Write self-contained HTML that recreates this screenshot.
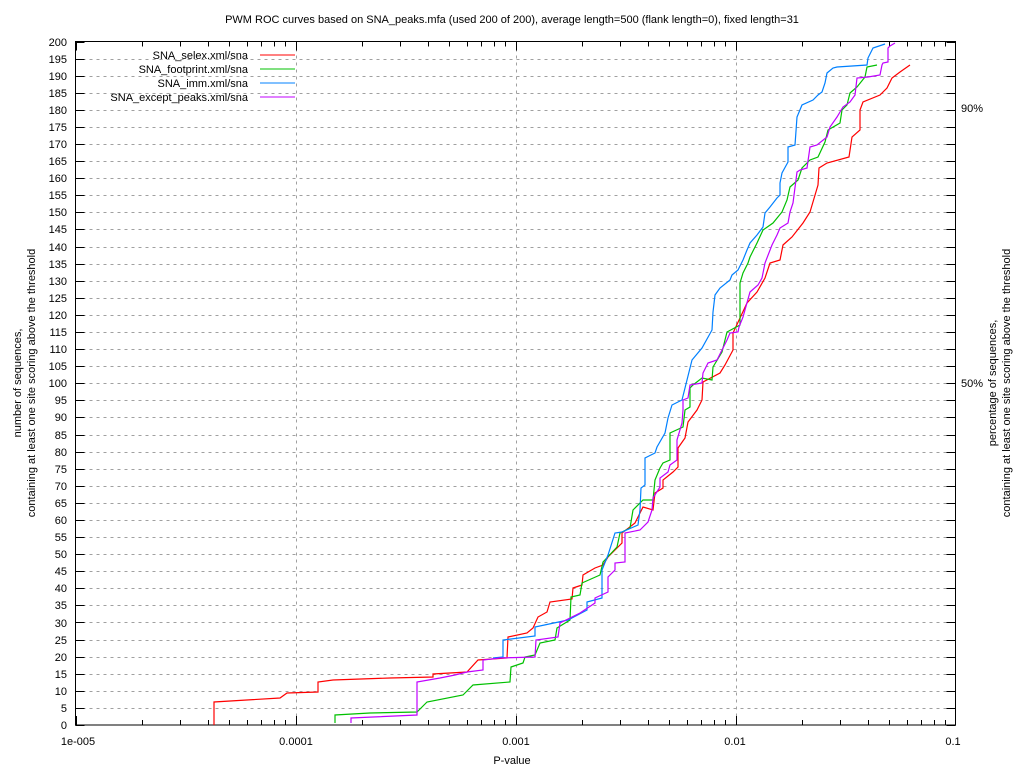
<!DOCTYPE html>
<html><head><meta charset="utf-8"><style>
html,body{margin:0;padding:0;background:#fff;}
svg{display:block;font-family:"Liberation Sans",Arial,sans-serif;font-size:11px;}
</style></head><body>
<svg id="s" width="1024" height="768" viewBox="0 0 1024 768" xmlns="http://www.w3.org/2000/svg">
<rect width="1024" height="768" fill="#fff"/>
<g id="grid" stroke="#a0a0a0" stroke-width="1" stroke-dasharray="3,4"></g>
<g id="ticks" stroke="#000" stroke-width="1"></g>
<rect x="75.5" y="41.5" width="880" height="683.5" fill="none" stroke="#000"/>
<text x="512" y="23" text-anchor="middle">PWM ROC curves based on SNA_peaks.mfa (used 200 of 200), average length=500 (flank length=0), fixed length=31</text>
<g text-anchor="end">
<text x="67" y="729">0</text><text x="67" y="712">5</text><text x="67" y="695">10</text><text x="67" y="678">15</text><text x="67" y="661">20</text><text x="67" y="644">25</text><text x="67" y="627">30</text><text x="67" y="609">35</text><text x="67" y="592">40</text><text x="67" y="575">45</text><text x="67" y="558">50</text><text x="67" y="541">55</text><text x="67" y="524">60</text><text x="67" y="507">65</text><text x="67" y="490">70</text><text x="67" y="473">75</text><text x="67" y="456">80</text><text x="67" y="439">85</text><text x="67" y="421">90</text><text x="67" y="404">95</text><text x="67" y="387">100</text><text x="67" y="370">105</text><text x="67" y="353">110</text><text x="67" y="336">115</text><text x="67" y="319">120</text><text x="67" y="302">125</text><text x="67" y="285">130</text><text x="67" y="268">135</text><text x="67" y="251">140</text><text x="67" y="233">145</text><text x="67" y="216">150</text><text x="67" y="199">155</text><text x="67" y="182">160</text><text x="67" y="165">165</text><text x="67" y="148">170</text><text x="67" y="131">175</text><text x="67" y="114">180</text><text x="67" y="97">185</text><text x="67" y="80">190</text><text x="67" y="63">195</text><text x="67" y="46">200</text>
</g>
<text x="961" y="112">90%</text>
<text x="961" y="387">50%</text>
<g text-anchor="middle">
<text x="78" y="745">1e-005</text><text x="296" y="745">0.0001</text><text x="516" y="745">0.001</text><text x="735" y="745">0.01</text><text x="953" y="745">0.1</text>
<text x="512" y="764">P-value</text>
<text transform="translate(21,383) rotate(-90)">number of sequences,</text>
<text transform="translate(35,383) rotate(-90)">containing at least one site scoring above the threshold</text>
<text transform="translate(996,383) rotate(-90)">percentage of sequences,</text>
<text transform="translate(1010,383) rotate(-90)">containing at least one site scoring above the threshold</text>
</g>
<g text-anchor="end">
<text x="248" y="59">SNA_selex.xml/sna</text>
<text x="248" y="73">SNA_footprint.xml/sna</text>
<text x="248" y="87">SNA_imm.xml/sna</text>
<text x="248" y="101">SNA_except_peaks.xml/sna</text>
</g>
<g stroke-width="1">
<line x1="260" y1="55" x2="295" y2="55" stroke="#ff0000"/>
<line x1="260" y1="69" x2="295" y2="69" stroke="#00c000"/>
<line x1="260" y1="83" x2="295" y2="83" stroke="#0080ff"/>
<line x1="260" y1="97" x2="295" y2="97" stroke="#c000ff"/>
</g>
<g fill="none" stroke-width="1.2">
<polyline stroke="#ff0000" points="214,725 214,702 280,698 287,693 318,692 318,682 333,680 390,678 433,677 433,674 467,672 478,660 507,658 508,637 527,633 533,628 538,617 547,612 550,602 572,599 573,588 582,585 583,575 595,568 603,565 608,557 622,543 622,533 635,523 643,507 653,510 655,493 663,488 663,480 673,472 678,467 678,448 685,438 688,422 697,410 702,400 703,382 720,373 725,365 733,350 733,333 747,303 757,292 765,278 770,263 780,260 783,245 792,237 803,223 810,212 818,185 819,168 827,163 849,157 852,137 860,130 860,110 863,102 880,95 887,88 892,78 900,72 910,65"/>
<polyline stroke="#00c000" points="335,723 335,715 370,713 417,712 427,702 463,695 473,685 510,682 511,667 523,663 525,657 535,655 540,643 555,640 557,628 570,620 571,597 580,595 582,583 600,575 603,562 617,547 620,533 630,528 633,510 643,500 653,500 655,480 660,468 663,463 670,460 670,433 683,427 685,410 690,407 690,388 693,385 702,378 712,380 713,367 722,352 727,332 740,325 740,283 743,273 748,263 750,257 757,243 763,230 773,223 782,212 787,200 790,187 798,180 802,168 810,160 818,157 825,142 828,130 840,123 842,110 847,105 850,93 857,87 865,77 867,67 877,65"/>
<polyline stroke="#0080ff" points="493,658 503,657 503,640 535,636 535,627 568,620 587,610 587,602 602,598 602,570 608,555 615,533 622,532 638,525 640,510 641,488 645,485 645,458 655,453 657,447 665,433 668,418 672,405 682,400 692,360 702,348 712,330 713,312 715,295 720,288 730,280 732,275 738,270 743,260 747,250 750,243 757,235 763,227 765,213 770,207 777,198 780,195 780,183 782,173 788,162 788,147 795,145 797,117 802,105 813,100 818,95 822,92 825,83 827,73 833,68 837,67 867,65 868,58 873,48 885,44"/>
<polyline stroke="#c000ff" points="351,723 351,718 373,717 417,715 417,682 440,678 455,675 467,672 483,670 483,660 500,658 535,657 536,640 558,637 560,623 580,613 595,603 595,598 608,592 608,577 615,570 615,563 625,562 625,533 640,530 648,522 652,510 653,498 660,487 660,478 668,472 670,465 677,460 677,440 682,423 683,410 683,400 688,398 690,385 702,383 703,373 708,363 717,360 727,340 730,333 738,332 739,327 743,317 750,292 758,285 762,278 765,263 772,245 777,235 780,228 788,223 790,212 793,203 797,172 800,170 807,168 810,147 817,145 827,137 830,127 837,117 843,107 850,102 855,95 857,78 868,77 880,75 882,65 883,63 888,62 888,48 890,46 895,43"/>
</g>
</svg>
<script>
(function(){
var ns="http://www.w3.org/2000/svg",g=document.getElementById("grid"),t=document.getElementById("ticks");
function L(p,x1,y1,x2,y2){var l=document.createElementNS(ns,"line");l.setAttribute("x1",x1);l.setAttribute("y1",y1);l.setAttribute("x2",x2);l.setAttribute("y2",y2);p.appendChild(l);}
var L0=75.5,R=955.5,T=41.5,B=725,D=220;
for(var v=5;v<200;v+=5){var y=Math.round(B-v*3.4175)+0.5;L(g,L0,y,R,y);}
for(var v=0;v<=200;v+=5){var y=Math.round(B-v*3.4175)+0.5;L(t,L0,y,L0+9,y);L(t,R,y,R-9,y);}
for(var d=0;d<4;d++){for(var k=1;k<10;k++){var x=Math.round(L0+D*(d+Math.log10(k)))+0.5;var len=k==1?9:5;if(k==1&&d>0)L(g,x,T,x,B);L(t,x,B,x,B-len);L(t,x,T,x,T+len);}}
})();
</script>
</body></html>
